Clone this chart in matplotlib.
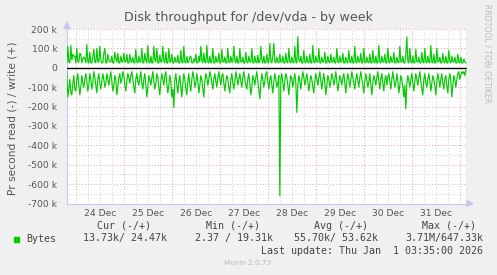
# Munin style disk throughput graph, by week
import numpy as np
import pandas as pd
import matplotlib
matplotlib.use("Agg")
import matplotlib.pyplot as plt

# write (+) in kB/s, one value every 30 min
write_k = [
    25, 110, 30, 25, 115, 40, 70, 60, 60, 25, 100, 30, 30, 75, 70, 25, 45, 55, 50, 25,
    120, 30, 25, 80, 25, 25, 60, 95, 30, 25, 100, 30, 30, 110, 40, 25, 25, 75, 100, 25,
    25, 70, 40, 30, 30, 60, 25, 25, 80, 50, 30, 75, 25, 25, 60, 30, 30, 75, 30, 30,
    70, 25, 25, 70, 30, 30, 55, 25, 25, 95, 30, 25, 60, 30, 30, 100, 25, 25, 75, 40,
    25, 115, 30, 25, 60, 25, 25, 110, 40, 30, 100, 25, 25, 65, 30, 30, 110, 35, 25, 80,
    25, 25, 100, 30, 30, 70, 25, 25, 55, 30, 30, 65, 25, 25, 90, 30, 25, 110, 30, 25,
    60, 25, 30, 55, 60, 25, 25, 45, 30, 70, 25, 25, 60, 30, 110, 40, 25, 75, 30, 25,
    115, 30, 25, 60, 25, 30, 100, 25, 25, 60, 30, 30, 75, 25, 25, 95, 30, 30, 55, 25,
    25, 100, 30, 25, 60, 30, 30, 110, 40, 25, 60, 25, 25, 100, 30, 30, 55, 25, 25, 80,
    30, 25, 60, 30, 30, 100, 25, 25, 60, 30, 25, 65, 25, 30, 110, 40, 25, 60, 25, 25,
    70, 30, 25, 125, 35, 25, 60, 125, 30, 25, 55, 30, 25, 70, 30, 30, 60, 25, 25, 75,
    30, 25, 100, 30, 25, 55, 30, 25, 110, 30, 25, 160, 40, 30, 60, 25, 25, 90, 30, 25,
    60, 30, 25, 70, 25, 25, 115, 30, 25, 60, 30, 30, 100, 25, 25, 55, 30, 30, 80, 25,
    25, 60, 30, 25, 70, 30, 30, 55, 25, 25, 100, 30, 25, 60, 30, 30, 75, 25, 25, 55,
    30, 25, 90, 30, 25, 60, 25, 25, 110, 30, 25, 60, 30, 30, 75, 25, 25, 100, 30, 25,
    55, 30, 25, 70, 25, 25, 90, 30, 25, 60, 25, 25, 115, 30, 25, 60, 30, 30, 70, 25,
    25, 100, 30, 25, 60, 30, 30, 80, 25, 25, 55, 30, 25, 110, 30, 30, 60, 25, 25, 70,
    160, 30, 25, 100, 30, 25, 60, 25, 25, 95, 30, 30, 55, 25, 25, 80, 30, 25, 100, 30,
    25, 60, 30, 25, 115, 30, 25, 70, 25, 25, 100, 30, 30, 55, 25, 25, 75, 30, 25, 60,
    25, 25, 90, 30, 25, 60, 30, 30, 55, 25, 25, 70, 30, 25, 55, 25, 25, 45, 30, 25,
]

# read (-) in kB/s, same timestamps
read_k = [
    20, 150, 110, 60, 130, 140, 80, 40, 110, 120, 60, 30, 90, 140, 100, 40, 80, 100, 60, 30,
    70, 120, 90, 30, 60, 110, 80, 20, 50, 90, 130, 60, 30, 80, 110, 70, 30, 60, 100, 80,
    30, 60, 90, 50, 20, 70, 120, 90, 40, 60, 140, 100, 50, 30, 80, 60, 20, 40, 90, 120,
    70, 30, 50, 80, 40, 20, 60, 100, 130, 60, 30, 70, 90, 50, 20, 80, 110, 60, 30, 90,
    150, 100, 40, 60, 90, 50, 20, 70, 110, 80, 30, 50, 100, 140, 70, 30, 60, 90, 40, 20,
    80, 130, 90, 40, 70, 150, 110, 205, 60, 30, 90, 130, 70, 40, 100, 150, 80, 30, 60, 110,
    140, 70, 30, 90, 120, 60, 20, 50, 100, 80, 30, 70, 130, 90, 40, 60, 110, 150, 70, 30,
    50, 90, 60, 20, 40, 80, 110, 60, 30, 70, 100, 50, 20, 60, 90, 40, 30, 80, 120, 70,
    40, 60, 100, 130, 60, 30, 80, 110, 70, 20, 50, 90, 60, 30, 70, 100, 50, 20, 60, 90,
    110, 60, 30, 80, 140, 100, 40, 60, 90, 50, 20, 70, 110, 160, 80, 30, 60, 100, 70, 30,
    20, 70, 110, 60, 40, 90, 130, 70, 30, 60, 100, 80, 40, 660, 60, 30, 80, 120, 70, 30,
    50, 90, 140, 80, 40, 60, 100, 60, 30, 80, 230, 90, 40, 70, 110, 60, 20, 50, 90, 60,
    30, 70, 120, 80, 40, 60, 100, 130, 70, 30, 60, 90, 50, 20, 70, 110, 60, 30, 80, 140,
    90, 40, 60, 100, 70, 30, 50, 90, 60, 20, 70, 120, 80, 40, 60, 90, 50, 30, 80, 130,
    70, 30, 60, 100, 60, 20, 50, 80, 110, 60, 30, 70, 100, 50, 20, 60, 90, 130, 70, 30,
    60, 100, 70, 30, 90, 140, 80, 40, 60, 90, 50, 20, 70, 110, 60, 30, 80, 120, 60, 40,
    90, 50, 30, 70, 110, 60, 20, 60, 100, 80, 30, 70, 130, 90, 40, 60, 100, 150, 90, 210,
    80, 40, 70, 100, 60, 30, 80, 120, 70, 30, 60, 90, 50, 20, 70, 110, 140, 60, 30, 80,
    100, 60, 30, 70, 120, 80, 40, 60, 90, 140, 70, 30, 60, 100, 60, 30, 80, 110, 60, 40,
    90, 130, 60, 30, 70, 150, 90, 40, 60, 100, 60, 30, 20, 60, 40, 20, 30, 20, 40, 14,
]

day_labels = ["24 Dec", "25 Dec", "26 Dec", "27 Dec", "28 Dec", "29 Dec", "30 Dec", "31 Dec"]
y_ticks = [-700, -600, -500, -400, -300, -200, -100, 0, 100, 200]
col_heads = ["Cur (-/+)", "Min (-/+)", "Avg (-/+)", "Max (-/+)"]
col_values = ["13.73k/ 24.47k", "2.37 / 19.31k", "55.70k/ 53.62k", "3.71M/647.33k"]

times = pd.date_range("2025-12-23 19:30", periods=len(write_k), freq="30min")
t0 = pd.Timestamp("2025-12-23 19:35")
t1 = pd.Timestamp("2026-01-01 03:35")

W, H = 497, 275
bg = "#F0F0F0"
txt = "#555555"
green = "#00CC00"
red_grid = "#F0A0A0"
gray_grid = "#D0D0D0"

fig = plt.figure(figsize=(W / 100, H / 100), dpi=100, facecolor=bg)
ax = fig.add_axes([67 / W, 1 - 203.5 / H, 400 / W, 174.5 / H])
ax.set_facecolor("white")

def fx(x):
    return x / W

def fy(y):
    return 1 - y / H

# grid
midnights = pd.date_range("2025-12-24", "2026-01-01", freq="1D")
sixh = pd.date_range("2025-12-24", "2026-01-01 03:00", freq="6h")
for t in sixh:
    if t not in midnights:
        ax.axvline(t, color=gray_grid, lw=0.7, ls=(0, (1, 2)), zorder=1)
for t in midnights:
    ax.axvline(t, color=red_grid, lw=0.7, ls=(0, (1, 2)), zorder=1)
for v in y_ticks:
    ax.axhline(v * 1000, color=red_grid, lw=0.7, ls=(0, (1, 2)), zorder=1)
    if v < 200:
        ax.axhline((v + 50) * 1000, color=gray_grid, lw=0.7, ls=(0, (1, 2)), zorder=1)

# data
ax.plot(times, np.array(write_k) * 1000, color=green, lw=0.85, zorder=3)
ax.plot(times, -np.array(read_k) * 1000, color=green, lw=0.85, zorder=3)
ax.axhline(0, color="black", lw=1.0, zorder=4)
ax.axvline(t1, color="#999999", lw=1.0, zorder=4)

ax.set_xlim(t0, t1)
ax.set_ylim(-700000, 200000)

noon = pd.date_range("2025-12-24 12:00", periods=8, freq="1D")
ax.set_xticks(noon)
ax.set_xticklabels(day_labels)
ax.set_yticks([v * 1000 for v in y_ticks])
ax.set_yticklabels([("%d k" % v) if v != 0 else "0" for v in y_ticks])
ax.tick_params(axis="both", length=0, labelsize=6.6, colors=txt)
ax.tick_params(axis="y", pad=7)
ax.tick_params(axis="x", pad=4)

for s in ["top", "right"]:
    ax.spines[s].set_visible(False)
ax.spines["left"].set_color("#C8C8F0")
ax.spines["bottom"].set_color("#C8C8F0")
ax.spines["left"].set_linewidth(0.8)
ax.spines["bottom"].set_linewidth(0.8)

# axis arrows
fig.patches.append(plt.Polygon([[fx(64), fy(28.5)], [fx(70), fy(28.5)], [fx(67), fy(22)]],
                               closed=True, transform=fig.transFigure, color="#C8C8F0"))
fig.patches.append(plt.Polygon([[fx(467), fy(200.5)], [fx(467), fy(206.5)], [fx(473), fy(203.5)]],
                               closed=True, transform=fig.transFigure, color="#C8C8F0"))

# titles
fig.text(fx(248), fy(17), "Disk throughput for /dev/vda - by week", ha="center", va="center",
         fontsize=9.1, color=txt)
fig.text(fx(13), fy(118), "Pr second read (-) / write (+)", ha="center", va="center",
         rotation=90, fontsize=7.7, color=txt)
fig.text(fx(487), fy(53.5), "RRDTOOL / TOBI OETIKER", ha="center", va="center",
         rotation=270, fontsize=5.6, color="#BBBBBB")

# legend
mono = "DejaVu Sans Mono"
lc = "#444444"
head_right = [151, 260, 368, 476]
val_right = [167, 273, 378, 483]
for h, x in zip(col_heads, head_right):
    fig.text(fx(x), fy(226), h, ha="right", va="center", family=mono, fontsize=7.2, color=lc)
fig.patches.append(plt.Rectangle((fx(14), fy(242)), 5 / W, 5 / H, transform=fig.transFigure,
                                 color=green))
fig.text(fx(26), fy(238.5), "Bytes", ha="left", va="center", family=mono, fontsize=7.2, color=lc)
for v, x in zip(col_values, val_right):
    fig.text(fx(x), fy(238.5), v, ha="right", va="center", family=mono, fontsize=7.2, color=lc)
fig.text(fx(483), fy(251), "Last update: Thu Jan  1 03:35:00 2026", ha="right", va="center",
         family=mono, fontsize=7.2, color=lc)
fig.text(fx(248), fy(263), "Munin 2.0.73", ha="center", va="center", fontsize=5.2, color="#BBBBBB")

fig.savefig("out.png", dpi=100, facecolor=bg)
